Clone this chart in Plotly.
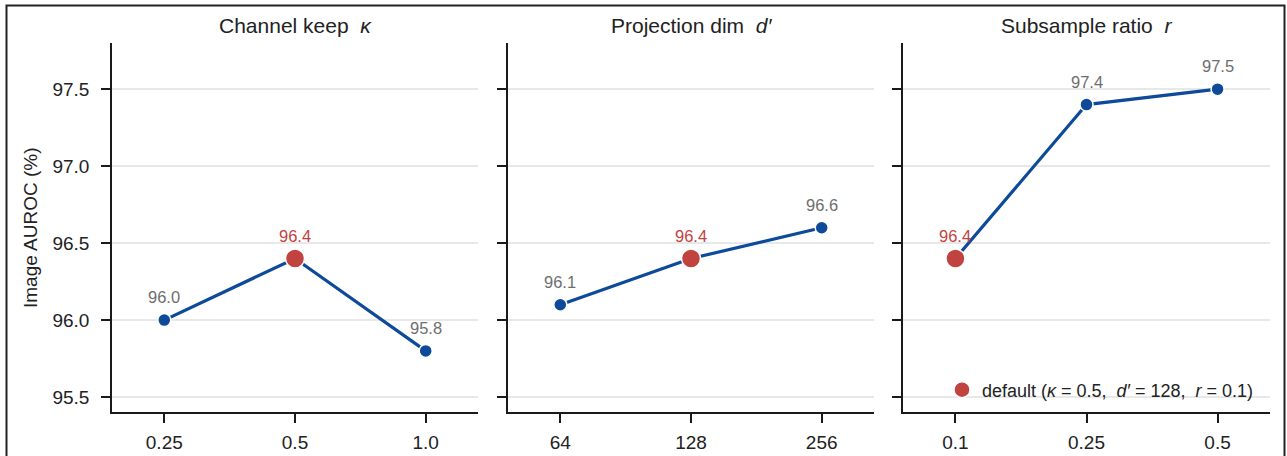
import plotly.graph_objects as go

# ---- data ----
kappa_labels = ["0.25", "0.5", "1.0"]
kappa_vals = [96.0, 96.4, 95.8]
dprime_labels = ["64", "128", "256"]
dprime_vals = [96.1, 96.4, 96.6]
r_labels = ["0.1", "0.25", "0.5"]
r_vals = [96.4, 97.4, 97.5]
default_idx = [1, 1, 0]
panel_titles = ["Channel keep\u00a0\u00a0<i>κ</i>", "Projection dim\u00a0\u00a0<i>d′</i>",
                "Subsample ratio\u00a0\u00a0<i>r</i>"]
y_ticks = [95.5, 96.0, 96.5, 97.0, 97.5]
y_title = "Image AUROC (%)"
legend_text = "default (<i>κ</i> = 0.5,\u00a0\u00a0<i>d′</i> = 128,\u00a0\u00a0<i>r</i> = 0.1)"

panels = [(kappa_labels, kappa_vals), (dprime_labels, dprime_vals), (r_labels, r_vals)]

BLUE = "#0d4a9a"
RED = "#c0433f"
GRAY = "#6e6e6e"
FONT = "Liberation Sans, Arial, sans-serif"
W, H = 1287, 456

# pixel layout
x_domains = [(112, 478), (508, 874), (903, 1270)]
y_dom = ((H - 412) / H, (H - 43) / H)

fig = go.Figure()
for i, ((labels, vals), d) in enumerate(zip(panels, default_idx)):
    xa = "x" if i == 0 else f"x{i+1}"
    ya = "y" if i == 0 else f"y{i+1}"
    fig.add_trace(go.Scatter(
        x=list(range(len(vals))), y=vals, mode="lines+markers",
        line=dict(color=BLUE, width=3.2),
        marker=dict(size=13, color=BLUE, line=dict(color="white", width=1.5)),
        xaxis=xa, yaxis=ya, showlegend=False, hoverinfo="skip"))
    fig.add_trace(go.Scatter(
        x=[d], y=[vals[d]], mode="markers",
        marker=dict(size=19, color=RED, line=dict(color="white", width=1.5)),
        xaxis=xa, yaxis=ya, showlegend=(i == 2), name=legend_text, hoverinfo="skip"))
    for j, v in enumerate(vals):
        fig.add_annotation(x=j, y=v, xref=xa, yref=ya, text=f"{v:.1f}",
                           showarrow=False, yshift=23,
                           font=dict(size=16.5, color=RED if j == d else GRAY, family=FONT))
    x0, x1 = x_domains[i]
    ax_common = dict(showline=True, linecolor="#1a1a1a", linewidth=1.5, ticks="outside",
                     ticklen=9, tickwidth=1.5, tickcolor="#1a1a1a", mirror=False, zeroline=False,
                     tickfont=dict(size=19, color="#222", family=FONT))
    fig.layout[("xaxis" if i == 0 else f"xaxis{i+1}")] = dict(
        domain=[x0 / W, x1 / W], anchor=ya, range=[-0.4, 2.4],
        tickvals=list(range(len(labels))), ticktext=labels, showgrid=False,
        ticklabelstandoff=3, **ax_common)
    fig.layout[("yaxis" if i == 0 else f"yaxis{i+1}")] = dict(
        domain=list(y_dom), anchor=xa, range=[95.403, 97.80],
        tickvals=y_ticks, ticktext=[f"{t:.1f}" for t in y_ticks] if i == 0 else [""] * len(y_ticks),
        showgrid=True, gridcolor="#e8e8e8", gridwidth=1.5, ticklabelstandoff=8, **ax_common)
    fig.add_annotation(x=(x0 + x1) / 2 / W, y=(H - 25) / H, xref="paper", yref="paper",
                       text=panel_titles[i], showarrow=False, xanchor="center", yanchor="middle",
                       font=dict(size=21, color="#222", family=FONT))

fig.add_annotation(x=30 / W, y=(H - 228) / H, xref="paper", yref="paper", text=y_title,
                   textangle=-90, showarrow=False, xanchor="center", yanchor="middle",
                   font=dict(size=19, color="#222", family=FONT))

# outer frame
fig.add_shape(type="rect", xref="paper", yref="paper", x0=6.5 / W, x1=1284.5 / W,
              y0=-0.2, y1=(H - 5.5) / H, line=dict(color="#222", width=2), layer="above")

fig.update_layout(
    width=W, height=H, margin=dict(l=0, r=0, t=0, b=0),
    paper_bgcolor="white", plot_bgcolor="white",
    font=dict(family=FONT),
    legend=dict(x=942 / W, y=(H - 390) / H, xanchor="left", yanchor="middle",
                bgcolor="rgba(0,0,0,0)", font=dict(size=18, color="#222", family=FONT),
                itemsizing="trace"),
)

fig.write_html("out.html", config={"displayModeBar": False},
               post_script="document.body.style.margin='0';document.body.style.overflow='hidden';")
